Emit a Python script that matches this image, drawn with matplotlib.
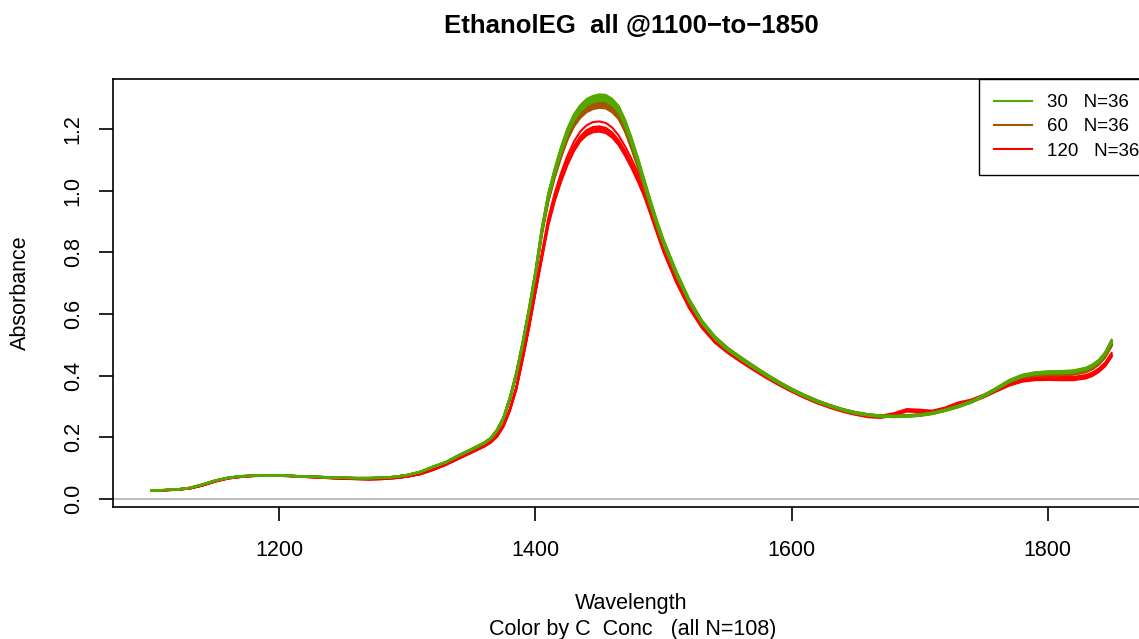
import matplotlib.pyplot as plt
import numpy as np

# wavelengths (nm) and group-mean spectra
wl = np.array([1100, 1110, 1120, 1130, 1140, 1150, 1160, 1170, 1180, 1190,
               1200, 1210, 1220, 1230, 1240, 1250, 1260, 1270, 1280, 1290,
               1300, 1310, 1320, 1330, 1340, 1350, 1360, 1365, 1370, 1375,
               1380, 1385, 1390, 1395, 1400, 1405, 1410, 1415, 1420, 1425,
               1430, 1435, 1440, 1445, 1450, 1455, 1460, 1465, 1470, 1475,
               1480, 1485, 1490, 1495, 1500, 1510, 1520, 1530, 1540, 1550,
               1560, 1570, 1580, 1590, 1600, 1610, 1620, 1630, 1640, 1650,
               1660, 1670, 1680, 1690, 1700, 1710, 1720, 1730, 1740, 1750,
               1760, 1770, 1780, 1790, 1800, 1810, 1820, 1830, 1835, 1840,
               1845, 1850])

spec_30 = np.array([0.028, 0.029, 0.031, 0.036, 0.047, 0.060, 0.069, 0.074, 0.076, 0.077,
                    0.077, 0.075, 0.073, 0.072, 0.070, 0.069, 0.068, 0.068, 0.069, 0.072,
                    0.078, 0.088, 0.105, 0.120, 0.142, 0.162, 0.183, 0.198, 0.225, 0.265,
                    0.330, 0.410, 0.510, 0.620, 0.740, 0.880, 0.990, 1.070, 1.140, 1.200,
                    1.245, 1.275, 1.295, 1.305, 1.310, 1.308, 1.295, 1.272, 1.228, 1.170,
                    1.105, 1.035, 0.965, 0.900, 0.840, 0.738, 0.648, 0.578, 0.527, 0.490,
                    0.460, 0.432, 0.405, 0.380, 0.357, 0.337, 0.319, 0.304, 0.291, 0.281,
                    0.274, 0.270, 0.269, 0.270, 0.273, 0.279, 0.289, 0.301, 0.316, 0.336,
                    0.360, 0.385, 0.402, 0.410, 0.413, 0.414, 0.416, 0.425, 0.435, 0.450,
                    0.475, 0.515])

spec_60 = np.array([0.028, 0.029, 0.031, 0.036, 0.047, 0.060, 0.069, 0.074, 0.076, 0.077,
                    0.077, 0.075, 0.073, 0.072, 0.070, 0.069, 0.068, 0.068, 0.069, 0.072,
                    0.078, 0.088, 0.104, 0.119, 0.140, 0.160, 0.181, 0.196, 0.222, 0.262,
                    0.325, 0.405, 0.503, 0.612, 0.730, 0.868, 0.976, 1.055, 1.122, 1.180,
                    1.223, 1.252, 1.271, 1.281, 1.285, 1.283, 1.270, 1.248, 1.206, 1.150,
                    1.088, 1.020, 0.953, 0.890, 0.832, 0.733, 0.645, 0.576, 0.526, 0.489,
                    0.460, 0.432, 0.405, 0.380, 0.357, 0.337, 0.319, 0.304, 0.291, 0.281,
                    0.274, 0.270, 0.269, 0.271, 0.274, 0.280, 0.290, 0.302, 0.316, 0.335,
                    0.358, 0.382, 0.398, 0.404, 0.406, 0.406, 0.408, 0.416, 0.426, 0.441,
                    0.465, 0.502])

spec_120 = np.array([0.027, 0.028, 0.030, 0.034, 0.044, 0.057, 0.067, 0.072, 0.075, 0.076,
                     0.076, 0.074, 0.072, 0.070, 0.068, 0.066, 0.065, 0.064, 0.065, 0.068,
                     0.073, 0.081, 0.095, 0.112, 0.132, 0.152, 0.172, 0.185, 0.205, 0.238,
                     0.290, 0.360, 0.458, 0.563, 0.678, 0.790, 0.900, 0.980, 1.045, 1.100,
                     1.145, 1.178, 1.198, 1.208, 1.210, 1.205, 1.190, 1.165, 1.130, 1.090,
                     1.045, 0.995, 0.935, 0.873, 0.813, 0.712, 0.628, 0.563, 0.515, 0.481,
                     0.452, 0.425, 0.399, 0.375, 0.353, 0.333, 0.315, 0.300, 0.287, 0.277,
                     0.269, 0.267, 0.275, 0.288, 0.286, 0.283, 0.293, 0.309, 0.318, 0.334,
                     0.354, 0.373, 0.386, 0.391, 0.392, 0.391, 0.391, 0.397, 0.405, 0.418,
                     0.437, 0.468])

# peak heights of the individual spectra in each group (read at ~1450 nm)
peaks_30 = [1.312, 1.309, 1.306, 1.303, 1.300, 1.297, 1.294, 1.291]
peaks_60 = [1.288, 1.284, 1.280, 1.276, 1.272, 1.268]
peaks_120 = [1.224, 1.208, 1.203, 1.197, 1.191]

labels = ["30   N=36", "60   N=36", "120   N=36"]
col_30, col_60, col_120 = '#55A800', '#A35500', '#FF0000'

plt.rcParams['font.family'] = ['Liberation Sans', 'DejaVu Sans']

fig = plt.figure(figsize=(11.39, 6.39), dpi=100)
# plot region runs past the right edge, like the cropped original
ax = fig.add_axes([113 / 1139, 1 - 507 / 639, (1150 - 113) / 1139, (507 - 79) / 639])

ax.axhline(0, color='#BEBEBE', lw=1.5, zorder=1)

for spec, peaks, c in [(spec_120, peaks_120, col_120),
                       (spec_60, peaks_60, col_60),
                       (spec_30, peaks_30, col_30)]:
    for pk in peaks:
        ax.plot(wl, spec * pk / spec.max(), color=c, lw=1.5, zorder=2)

ax.set_xlim(1070, 1880)
ax.set_ylim(-0.0262, 1.3616)

ax.set_xticks([1200, 1400, 1600, 1800])
yt = [0.0, 0.2, 0.4, 0.6, 0.8, 1.0, 1.2]
ax.set_yticks(yt)
ax.set_yticklabels([f"{v:.1f}" for v in yt], rotation=90, va='center')

for s in ax.spines.values():
    s.set_linewidth(1.2)
ax.tick_params(direction='out', length=10, width=1.2, labelsize=15.5)
ax.tick_params(axis='x', pad=14)
ax.tick_params(axis='y', pad=11)

handles = [plt.Line2D([], [], color=c, lw=1.5) for c in (col_30, col_60, col_120)]
leg = fig.legend(handles, labels, loc='upper left',
                 bbox_to_anchor=(979 / 1139, 1 - 79 / 639), bbox_transform=fig.transFigure,
                 borderaxespad=0, fontsize=13.5, frameon=True, fancybox=False,
                 framealpha=1, edgecolor='black', borderpad=0.8,
                 handlelength=2.0, handletextpad=0.85, labelspacing=0.38)
leg.get_frame().set_linewidth(1.0)

fig.text(631 / 1139, 1 - 26 / 639, "EthanolEG  all @1100\u2212to\u22121850",
         ha='center', va='center', fontsize=18.5, fontweight='bold')
fig.text(631 / 1139, 1 - 603 / 639, "Wavelength", ha='center', va='center', fontsize=15.5)
fig.text(633 / 1139, 1 - 629 / 639, "Color by C  Conc   (all N=108)",
         ha='center', va='center', fontsize=15.5)
fig.text(20 / 1139, 1 - 293 / 639, "Absorbance", ha='center', va='center',
         rotation=90, fontsize=15.5)

fig.savefig('out.png', dpi=100)
